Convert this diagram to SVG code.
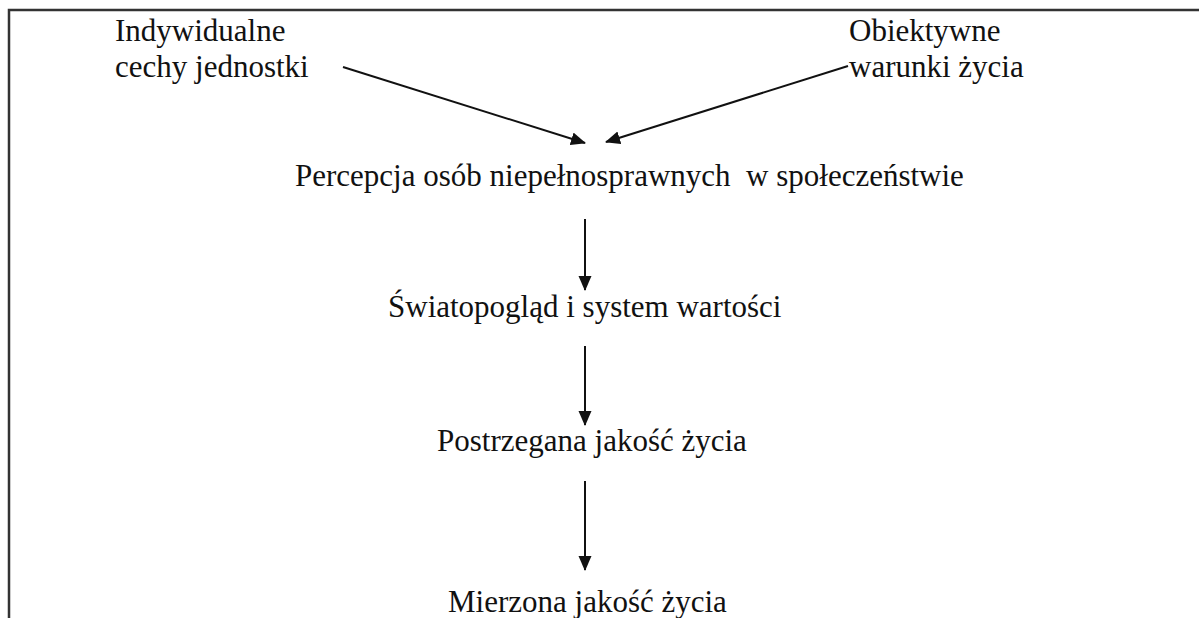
<svg xmlns="http://www.w3.org/2000/svg" width="1199" height="618" viewBox="0 0 1199 618">
<style>
text{font-family:"Liberation Serif","Times New Roman",serif;font-size:31px;fill:#111;white-space:pre}
.c{stroke:#111;stroke-width:2;fill:none}
.b{stroke:#333;stroke-width:2.5;fill:none}
</style>
<defs>
<marker id="ah" markerUnits="userSpaceOnUse" markerWidth="16" markerHeight="14" refX="14" refY="6.5" orient="auto">
<path d="M0,0 L15,6.5 L0,13 Z" fill="#111"/>
</marker>
</defs>
<rect width="1199" height="618" fill="#fff"/>
<g id="frame">
<path class="b" d="M9,618 V10 H1199"/>
</g>
<g id="n-indyw"><text x="115" y="41">Indywidualne</text><text x="115" y="77">cechy jednostki</text></g>
<g id="n-obiekt"><text x="849" y="41">Obiektywne</text><text x="849" y="77">warunki życia</text></g>
<g id="n-percepcja"><text x="295" y="186" xml:space="preserve">Percepcja osób niepełnosprawnych  w społeczeństwie</text></g>
<g id="n-swiat"><text x="388" y="317">Światopogląd i system wartości</text></g>
<g id="n-postrz"><text x="437" y="451">Postrzegana jakość życia</text></g>
<g id="n-mierz"><text x="448" y="612">Mierzona jakość życia</text></g>
<g id="connectors">
<line class="c" x1="343" y1="67" x2="585" y2="143" marker-end="url(#ah)"/>
<line class="c" x1="848" y1="66" x2="606" y2="142" marker-end="url(#ah)"/>
<line class="c" x1="585" y1="219" x2="585" y2="290" marker-end="url(#ah)"/>
<line class="c" x1="585" y1="346" x2="585" y2="425" marker-end="url(#ah)"/>
<line class="c" x1="585" y1="481" x2="585" y2="570" marker-end="url(#ah)"/>
</g>
</svg>
